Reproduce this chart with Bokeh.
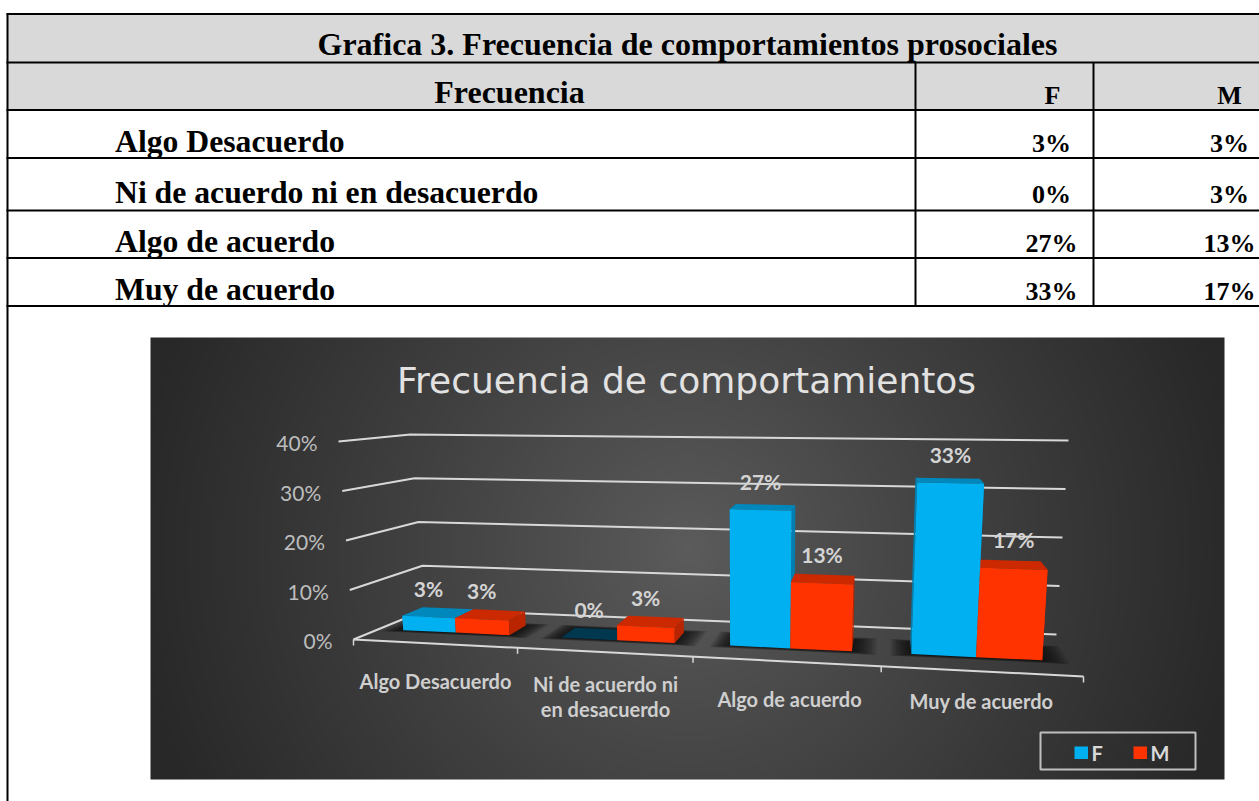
import numpy as np
from bokeh.plotting import figure
from bokeh.core.properties import value
from bokeh.embed import file_html
from bokeh.resources import INLINE

# ---- data ----
table_title = "Grafica 3. Frecuencia de comportamientos prosociales"
table_header = ["Frecuencia", "F", "M"]
table_rows = ["Algo Desacuerdo", "Ni de acuerdo ni en desacuerdo", "Algo de acuerdo", "Muy de acuerdo"]
chart_title = "Frecuencia de comportamientos"
categories = ["Algo Desacuerdo", "Ni de acuerdo ni\nen desacuerdo", "Algo de acuerdo", "Muy de acuerdo"]
series_names = ["F", "M"]
f_values = [3, 0, 27, 33]
m_values = [3, 3, 13, 17]
y_ticks = [0, 10, 20, 30, 40]

# ---- page ----
X0, Y0 = 0, 0
W, H = 1259, 801
p = figure(width=W, height=H, x_range=(X0, X0 + W), y_range=(Y0 + H, Y0),
           x_axis_type=None, y_axis_type=None, toolbar_location=None,
           output_backend="svg", min_border=0, outline_line_color=None,
           background_fill_color="white", border_fill_color="white")
p.grid.visible = False

SERIF = value("Liberation Serif")
SANS = value("Lato")


def txt(x, y, s, size, font=SERIF, color="black", align="left", baseline="middle", style="bold"):
    p.text(x=[x], y=[y], text=[s], text_font=font, text_font_size=value(f"{size}px"),
           text_color=color, text_align=align, text_baseline=baseline, text_font_style=style)


def serif(x, base, s, size, align="left"):
    txt(x, base - 0.30 * size, s, size, align=align)


def hline(y, x0=6, x1=1259, w=2):
    p.line([x0, x1], [y, y], line_color="black", line_width=w)


# ---- table ----
p.quad(left=[7], right=[1259], top=[13], bottom=[109.5], fill_color="#d9d9d9", line_color=None)
for y in [13.5, 62, 109.5, 157.5, 210, 257.5, 305.5]:
    hline(y)
p.line([7, 7], [13, 801], line_color="black", line_width=2)
for x in [915, 1093]:
    p.line([x, x], [62, 305.5], line_color="black", line_width=2)

serif(687, 53, table_title, 32, align="center")
serif(509, 101, table_header[0], 32, align="center")
serif(1052, 103, table_header[1], 26, align="center")
serif(1229, 103, table_header[2], 26, align="center")
row_base = [151, 202, 251, 299]
val_base = [151, 202, 251, 299]
for name, b, b2, fv, mv in zip(table_rows, row_base, val_base, f_values, m_values):
    serif(114.5, b, name, 31.7)
    serif(1051, b2, f"{fv}%", 26, align="center")
    serif(1229, b2, f"{mv}%", 26, align="center")

# ---- dark panel with radial gradient ----
PX0, PX1, PY0, PY1 = 150, 1224, 337, 779
pw, ph = (PX1 - PX0) // 2, (PY1 - PY0) // 2
yy, xx = np.mgrid[0:ph, 0:pw]
r = np.sqrt(((xx - pw * 0.5) / (pw * 0.5)) ** 2 + ((yy - ph * 0.48) / (ph * 1.2)) ** 2)
g = np.clip(92 - 50 * r ** 0.9, 40, 255).astype(np.uint32)
img = (255 << 24) | (g << 16) | (g << 8) | g
p.image_rgba(image=[img], x=PX0, y=PY0, dw=PX1 - PX0, dh=PY1 - PY0)

txt(686, 380, chart_title, 36, font=value("DejaVu Sans"), color="#e2e2e2", align="center", style="normal")

# ---- 3-D projection of the chart box onto the panel ----
FL0, BL0, BR0, FR0 = (353, 639), (426, 609), (1056, 634), (1083, 676)
FL1, BL1, BR1, FR1 = (338, 441), (410, 434), (1068, 440), (1098, 452)
VMAX = 40.0
N = len(categories)


def proj(u, v, d):
    t = u / N
    U = t / (t + 1.15 * (1 - t))
    w = v / VMAX
    out = []
    for i in (0, 1):
        lo_f = FL0[i] + (FR0[i] - FL0[i]) * U
        lo_b = BL0[i] + (BR0[i] - BL0[i]) * U
        hi_f = FL1[i] + (FR1[i] - FL1[i]) * U
        hi_b = BL1[i] + (BR1[i] - BL1[i]) * U
        lo = lo_f + (lo_b - lo_f) * d
        hi = hi_f + (hi_b - hi_f) * d
        out.append(lo + (hi - lo) * w)
    return tuple(out)


def poly(pts, color, alpha=1.0):
    p.patch([q[0] for q in pts], [q[1] for q in pts], fill_color=color, fill_alpha=alpha, line_color=None)


# grid lines (side wall + back wall) and tick labels
GRID = "#d8d8d8"
for tick in y_ticks:
    a, b, c = proj(0, tick, 0), proj(0, tick, 1), proj(N, tick, 1)
    p.line([a[0], b[0], c[0]], [a[1], b[1], c[1]], line_color=GRID, line_width=2)
    txt(a[0] - 21, a[1] + 1, f"{tick}%", 21, font=SANS, color="#bdbdbd", align="right", style="normal")

# floor front edge and its ticks
a, b = proj(0, 0, 0), proj(N, 0, 0)
p.line([a[0], b[0]], [a[1], b[1]], line_color=GRID, line_width=2)
for i in range(N + 1):
    q = proj(i, 0, 0)
    p.line([q[0], q[0]], [q[1], q[1] + 6], line_color=GRID, line_width=1.5)

# soft shadows on the floor
D0, D1 = 0.35, 0.65
U0, UM, U1 = 0.16, 0.5, 0.84
for i in range(N):
    for grow in np.linspace(0.11, 0.0, 12):
        f = [proj(i + U0 - grow, 0, D0 - grow * 0.6), proj(i + U1 + grow * 1.2, 0, D0 - grow * 0.6),
             proj(i + U1 + grow * 1.2, 0, D1 + grow * 0.6), proj(i + U0 - grow, 0, D1 + grow * 0.6)]
        poly(f, "#0c0c0c", 0.11)

COL = {"F": ("#00b0f0", "#0087bb", "#007fb0"), "M": ("#ff3300", "#cc2900", "#b82500")}
ZERO = "#00384f"


def faces(u0, u1, v):
    fa = [proj(u0, 0, D0), proj(u1, 0, D0), proj(u1, v, D0), proj(u0, v, D0)]
    to = [proj(u0, v, D0), proj(u1, v, D0), proj(u1, v, D1), proj(u0, v, D1)]
    le = [proj(u0, 0, D0), proj(u0, v, D0), proj(u0, v, D1), proj(u0, 0, D1)]
    ri = [proj(u1, 0, D0), proj(u1, v, D0), proj(u1, v, D1), proj(u1, 0, D1)]
    return fa, to, le, ri


for i in range(N):
    fv, mv = f_values[i], m_values[i]
    ff = faces(i + U0, i + UM, fv)
    mf = faces(i + UM, i + U1, mv)
    front, top, side = COL["F"]
    if fv == 0:
        poly(ff[1], ZERO)
    else:
        poly(ff[2], side)
        poly(ff[3], side)
        poly(ff[1], top)
    front2, top2, side2 = COL["M"]
    poly(mf[2], side2)
    poly(mf[3], side2)
    poly(mf[1], top2)
    if fv > 0:
        poly(ff[0], front)
    poly(mf[0], front2)

# data labels
LABEL = "#d4d4d4"
for i in range(N):
    fv, mv = f_values[i], m_values[i]
    q = proj(i + (U0 + UM) / 2, fv, D0)
    txt(q[0], q[1] - 29, f"{fv}%", 21, font=SANS, color=LABEL, align="center")
    q = proj(i + (UM + U1) / 2, mv, D0)
    txt(q[0], q[1] - 29, f"{mv}%", 21, font=SANS, color=LABEL, align="center")

# category labels
cat_x = [435, 605, 789, 981]
cat_y = [680.5, 683, 698, 700.5]
for cname, cx, cy in zip(categories, cat_x, cat_y):
    for k, line in enumerate(cname.split("\n")):
        txt(cx, cy + 25 * k, line, 20, font=SANS, color="#cfcfcf", align="center")

# legend
p.quad(left=[1040], right=[1195], top=[732], bottom=[769], fill_color=None, line_color="#bfbfbf", line_width=2)
for name, sx in zip(series_names, [1074, 1133]):
    p.quad(left=[sx], right=[sx + 13.5], top=[746], bottom=[758.5], fill_color=COL[name][0], line_color=None)
    txt(sx + 17, 752, name, 20, font=SANS, color="#d9d9d9")

open("out.html", "w").write(file_html(p, INLINE))
